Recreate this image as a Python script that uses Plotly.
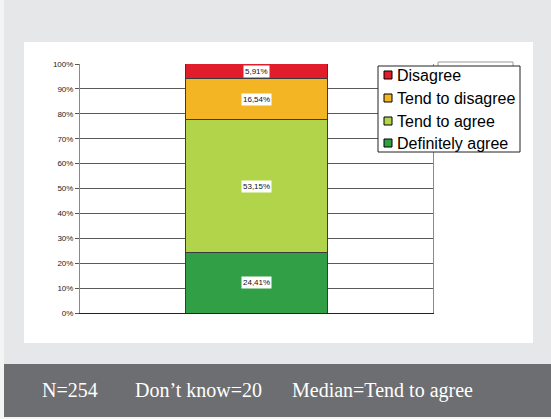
import plotly.graph_objects as go

# Survey answer shares (percent), stacked bottom to top
categories = ["Definitely agree", "Tend to agree", "Tend to disagree", "Disagree"]
shares = [24.41, 53.15, 16.54, 5.91]
share_labels = ["24,41%", "53,15%", "16,54%", "5,91%"]
colors = ["#309f45", "#b2d44b", "#f3b523", "#e21d2b"]

tick_values = [0, 10, 20, 30, 40, 50, 60, 70, 80, 90, 100]
tick_labels = ["0%", "10%", "20%", "30%", "40%", "50%", "60%", "70%", "80%", "90%", "100%"]

footer_items = ["N=254", "Don\u2019t know=20", "Median=Tend to agree"]
footer_x = [40, 133, 290]

W, H = 551, 419
PL, PR, PT, PB = 80, 433, 64, 313  # plot area in pixels


def px(x):
    return (x - PL) / (PR - PL)


def py(y):
    return (PB - y) / (PB - PT)


fig = go.Figure()

bar_x = ["Q"]
for name, val, col in zip(categories, shares, colors):
    fig.add_trace(go.Bar(
        x=bar_x, y=[val], name=name, showlegend=False,
        marker=dict(color=col, line=dict(color="#3a3a3a", width=1)),
        hoverinfo="skip",
    ))

# value labels in white boxes at the middle of each segment
annotations = []
base = 0.0
for val, lab in zip(shares, share_labels):
    annotations.append(dict(
        x="Q", y=base + val / 2, xref="x", yref="y", text=lab,
        showarrow=False, bgcolor="white", borderpad=1,
        font=dict(family="Liberation Sans, Arial", size=8, color="#111"),
    ))
    base += val

for txt, xp in zip(footer_items, footer_x):
    annotations.append(dict(
        x=px(xp), y=py(390), xref="paper", yref="paper", text=txt,
        xanchor="left", yanchor="middle", showarrow=False,
        font=dict(family="Liberation Serif, Times New Roman, serif", size=20, color="white"),
    ))

shapes = [
    # light outer strips
    dict(type="rect", xref="paper", yref="paper", x0=px(-5), x1=px(4), y0=py(425), y1=py(-5),
         fillcolor="#f4f4f4", line=dict(width=0), layer="below"),
    dict(type="rect", xref="paper", yref="paper", x0=px(-5), x1=px(560), y0=py(425), y1=py(417),
         fillcolor="#f4f4f4", line=dict(width=0), layer="below"),
    # white chart panel
    dict(type="rect", xref="paper", yref="paper", x0=px(24), x1=px(533), y0=py(343), y1=py(42),
         fillcolor="white", line=dict(width=0), layer="below"),
    # dark footer band
    dict(type="rect", xref="paper", yref="paper", x0=px(4), x1=px(560), y0=py(417), y1=py(364),
         fillcolor="#6d6e71", line=dict(width=0), layer="below"),
    # faint box behind the legend
    dict(type="rect", xref="paper", yref="paper", x0=px(438), x1=px(513), y0=py(90), y1=py(62),
         fillcolor="white", line=dict(color="#9a9a9a", width=1), layer="above"),
    # legend frame
    dict(type="rect", xref="paper", yref="paper", x0=px(378), x1=px(520), y0=py(152), y1=py(66),
         fillcolor="white", line=dict(color="#222", width=1), layer="above"),
]

# legend rows: top segment listed first
legend_rows_y = [75, 98, 121, 143]
for name, col, ry in zip(categories[::-1], colors[::-1], legend_rows_y):
    shapes.append(dict(
        type="rect", xref="paper", yref="paper",
        x0=px(384), x1=px(392), y0=py(ry + 4), y1=py(ry - 4),
        fillcolor=col, line=dict(color="black", width=1), layer="above",
    ))
    annotations.append(dict(
        x=px(395), y=py(ry), xref="paper", yref="paper", text=name,
        xanchor="left", yanchor="middle", showarrow=False,
        font=dict(family="Liberation Sans, Arial", size=16, color="black"),
    ))

fig.update_layout(
    width=W, height=H,
    margin=dict(l=PL, r=W - PR, t=PT, b=H - PB),
    paper_bgcolor="#e6e7e8",
    plot_bgcolor="white",
    barmode="stack",
    bargap=0.6,
    showlegend=False,
    xaxis=dict(showticklabels=False, showgrid=False, zeroline=False,
               showline=True, linecolor="#222", linewidth=1, ticks="",
               fixedrange=True),
    yaxis=dict(range=[0, 100], tickvals=tick_values, ticktext=tick_labels,
               showgrid=True, gridcolor="#5a5a5a", gridwidth=1,
               zeroline=False, showline=True, linecolor="#8a8a8a", linewidth=1,
               mirror=True, ticks="outside", ticklen=4, tickcolor="#555",
               tickfont=dict(family="Liberation Sans, Arial", size=8, color="#222"),
               fixedrange=True),
    annotations=annotations,
    shapes=shapes,
)

fig.write_html("out.html")
